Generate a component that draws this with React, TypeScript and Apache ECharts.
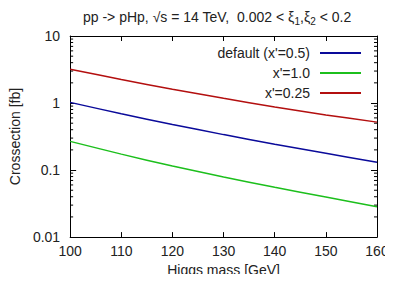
import React, { useEffect, useRef } from "react";
import * as echarts from "echarts";

const MASSES = [100, 110, 120, 130, 140, 150, 160];
const DEFAULT_05 = [1.023, 0.692, 0.479, 0.338, 0.243, 0.178, 0.131];
const XP_10 = [0.268, 0.173, 0.115, 0.0791, 0.0553, 0.0395, 0.0284];
const XP_025 = [3.2, 2.24, 1.61, 1.175, 0.875, 0.665, 0.519];
const SERIES_NAMES = ["default (x'=0.5)", "x'=1.0", "x'=0.25"];
const COLORS = ["#0a0a9a", "#1cbf1c", "#b30f0f"];
const Y_DECADES = [0.01, 0.1, 1];
const MINOR_MULTIPLIERS = [2, 3, 4, 5, 6, 7, 8, 9];

const FONT = "Liberation Sans, Arial, sans-serif";
const FS = 14;

export default function App() {
  const ref = useRef<HTMLDivElement>(null);
  useEffect(() => {
    if (!ref.current) return;
    const chart = echarts.init(ref.current, undefined, { renderer: "svg" });
    const minorVals: number[][] = [];
    Y_DECADES.forEach((d) => MINOR_MULTIPLIERS.forEach((m) => minorVals.push([100, d * m])));
    const pair = (vals: number[]) => MASSES.map((m, i) => [m, vals[i]]);
    const seriesVals = [DEFAULT_05, XP_10, XP_025];
    const axisLine = { show: true, lineStyle: { color: "#000", width: 1 } };
    chart.setOption({
      animation: false,
      textStyle: { fontFamily: FONT },
      title: {
        text: "pp -> pHp, \u221As = 14 TeV,  0.002 < \u03BE{sub|1},\u03BE{sub|2} < 0.2",
        left: 78,
        top: 3,
        textStyle: {
          fontSize: FS,
          fontWeight: "normal",
          color: "#222",
          fontFamily: FONT,
          rich: {
            sub: { fontSize: 10, color: "#222", fontFamily: FONT, padding: [8, 0, 0, 0] },
          },
        },
      },
      legend: {
        orient: "vertical",
        right: 27,
        top: 40,
        align: "right",
        icon: "rect",
        itemWidth: 41,
        itemHeight: 2,
        itemGap: 4,
        textStyle: { fontSize: FS, color: "#222", fontFamily: FONT, lineHeight: 16, padding: [0, 5, 0, 0] },
        data: SERIES_NAMES,
      },
      grid: { left: 65, right: 16, top: 36, bottom: 40, containLabel: false },
      xAxis: [
        {
          type: "value",
          min: 100,
          max: 160,
          interval: 10,
          name: "Higgs mass [GeV]",
          nameLocation: "middle",
          nameGap: 24,
          nameTextStyle: { fontSize: FS, color: "#222", fontFamily: FONT },
          axisLine,
          axisTick: { show: true, inside: true, length: 5, lineStyle: { color: "#000" } },
          axisLabel: { fontSize: FS, color: "#222", margin: 7, fontFamily: FONT },
          splitLine: { show: false },
        },
        {
          type: "value",
          position: "top",
          min: 100,
          max: 160,
          interval: 10,
          axisLine,
          axisTick: { show: true, inside: true, length: 5, lineStyle: { color: "#000" } },
          axisLabel: { show: false },
          splitLine: { show: false },
        },
      ],
      yAxis: [
        {
          type: "log",
          logBase: 10,
          min: 0.01,
          max: 10,
          name: "Crossection [fb]",
          nameLocation: "middle",
          nameGap: 41,
          nameTextStyle: { fontSize: FS, color: "#222", fontFamily: FONT },
          axisLine,
          axisTick: { show: true, inside: true, length: 6, lineStyle: { color: "#000" } },
          axisLabel: {
            fontSize: FS,
            color: "#222",
            margin: 10,
            fontFamily: FONT,
            formatter: (v: number) => String(Number(v.toPrecision(3))),
          },
          splitLine: { show: false },
        },
        {
          type: "log",
          logBase: 10,
          min: 0.01,
          max: 10,
          position: "right",
          axisLine,
          axisTick: { show: true, inside: true, length: 6, lineStyle: { color: "#000" } },
          axisLabel: { show: false },
          splitLine: { show: false },
        },
      ],
      series: [
        ...seriesVals.map((vals, i) => ({
          name: SERIES_NAMES[i],
          type: "line",
          data: pair(vals),
          smooth: 0.3,
          symbol: "none",
          showSymbol: false,
          lineStyle: { color: COLORS[i], width: 1.5 },
          itemStyle: { color: COLORS[i] },
        })),
        {
          type: "custom",
          silent: true,
          data: minorVals,
          encode: { x: 0, y: 1 },
          renderItem: (params: any, api: any) => {
            const cs = params.coordSys;
            const p = api.coord([100, api.value(1)]);
            const y = p[1];
            const style = { stroke: "#000", lineWidth: 1 };
            return {
              type: "group",
              children: [
                { type: "line", shape: { x1: cs.x, y1: y, x2: cs.x + 3, y2: y }, style },
                { type: "line", shape: { x1: cs.x + cs.width - 3, y1: y, x2: cs.x + cs.width, y2: y }, style },
              ],
            };
          },
        },
      ],
    });
    return () => chart.dispose();
  }, []);
  return <div ref={ref} style={{ width: 393, height: 282, margin: -8 }} />;
}
